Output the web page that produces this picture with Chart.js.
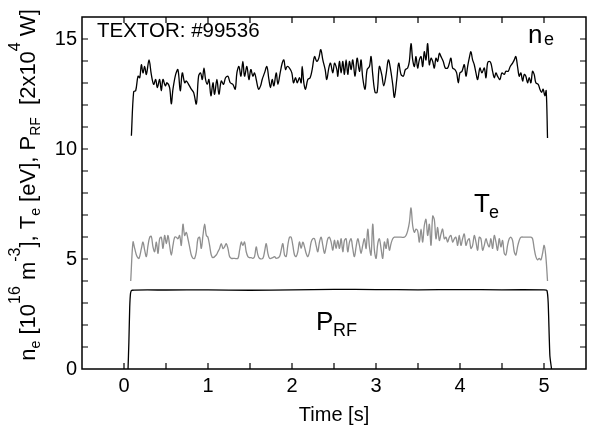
<!DOCTYPE html>
<html><head><meta charset="utf-8">
<script src="https://cdn.jsdelivr.net/npm/chart.js@4/dist/chart.umd.min.js"></script>
<style>html,body{margin:0;padding:0;background:#fff;}</style>
</head><body>
<canvas id="c" width="591" height="427"></canvas>
<script>
// ---- data ----
const neTime = [0.088,0.115,0.139,0.167,0.187,0.207,0.226,0.246,0.266,0.298,0.325,0.353,0.377,0.397,0.424,0.444,0.464,0.492,0.512,0.543,0.563,0.583,0.615,0.642,0.670,0.694,0.722,0.742,0.769,0.801,0.829,0.861,0.888,0.912,0.932,0.952,0.971,0.991,1.011,1.035,1.059,1.078,1.106,1.130,1.158,1.185,1.209,1.237,1.265,1.296,1.324,1.344,1.368,1.392,1.415,1.435,1.463,1.487,1.510,1.534,1.554,1.574,1.602,1.626,1.645,1.673,1.701,1.725,1.744,1.764,1.784,1.812,1.832,1.859,1.883,1.903,1.923,1.942,1.970,1.998,2.018,2.042,2.062,2.089,2.109,2.121,2.141,2.161,2.188,2.216,2.240,2.268,2.295,2.319,2.343,2.367,2.395,2.414,2.438,2.458,2.486,2.506,2.534,2.545,2.565,2.585,2.605,2.624,2.644,2.664,2.684,2.704,2.723,2.751,2.775,2.803,2.822,2.842,2.870,2.894,2.922,2.941,2.961,2.989,3.013,3.040,3.068,3.092,3.120,3.147,3.171,3.199,3.219,3.247,3.270,3.298,3.326,3.349,3.377,3.397,3.417,3.437,3.457,3.476,3.496,3.516,3.536,3.556,3.575,3.595,3.615,3.635,3.655,3.675,3.694,3.714,3.734,3.754,3.774,3.801,3.825,3.853,3.873,3.892,3.912,3.940,3.960,3.980,3.999,4.023,4.051,4.071,4.091,4.110,4.130,4.150,4.170,4.190,4.210,4.237,4.261,4.289,4.309,4.328,4.348,4.368,4.388,4.408,4.428,4.447,4.475,4.499,4.527,4.546,4.574,4.598,4.626,4.646,4.665,4.685,4.705,4.725,4.745,4.765,4.784,4.804,4.824,4.844,4.864,4.883,4.903,4.931,4.951,4.971,4.990,5.010,5.026,5.042];
const neValue = [10.6,12.6,12.65,13.31,13.24,13.83,13.46,13.75,13.39,14.05,13.39,12.94,13.16,12.79,13.16,12.65,13.16,12.87,13.01,12.79,12.05,12.72,13.39,13.61,12.65,13.46,13.01,13.09,12.94,12.72,12.57,12.05,13.31,13.46,13.16,13.68,13.16,12.94,13.16,12.42,13.01,12.49,13.16,12.49,13.09,12.94,13.24,13.31,13.01,12.94,12.72,13.46,13.75,13.31,13.98,13.31,13.75,13.16,13.61,13.31,13.46,13.16,12.72,12.87,13.16,13.46,13.75,13.16,12.79,13.16,12.87,13.46,12.94,13.46,13.90,14.05,13.61,13.75,13.68,13.46,13.01,13.24,13.01,13.24,13.01,13.75,13.01,12.72,13.16,13.24,13.61,14.2,13.98,14.13,14.52,14.05,13.61,13.16,13.68,13.90,13.46,13.90,13.61,13.31,13.98,13.46,13.98,13.39,14.05,13.39,13.98,13.61,14.05,13.31,14.13,13.53,14.05,13.24,12.72,13.61,13.75,14.2,13.39,12.57,12.57,13.75,13.39,12.87,13.39,14.05,13.68,12.94,12.35,13.16,13.90,13.39,13.31,13.61,13.68,13.98,14.79,14.05,13.75,14.2,13.68,14.05,14.2,13.75,14.42,14.05,14.79,13.83,14.13,13.98,13.68,14.13,13.98,14.35,14.2,13.98,13.68,13.68,13.90,14.13,13.68,13.61,13.46,13.01,13.46,13.53,13.83,13.31,13.75,14.13,14.42,14.05,13.83,13.46,13.16,13.68,13.46,13.68,13.24,13.90,13.98,13.90,13.53,13.24,13.46,13.31,13.16,13.46,13.39,13.53,13.53,13.75,13.90,14.05,14.2,13.75,13.31,13.46,13.09,13.39,13.31,13.01,13.24,13.01,13.53,13.39,13.01,12.94,12.72,12.57,12.72,12.42,12.65,10.5];

const teTime = [0.080,0.107,0.127,0.155,0.179,0.207,0.226,0.246,0.266,0.286,0.306,0.325,0.345,0.365,0.385,0.405,0.424,0.444,0.464,0.484,0.504,0.524,0.543,0.563,0.583,0.603,0.623,0.642,0.662,0.682,0.702,0.722,0.742,0.761,0.781,0.801,0.821,0.841,0.861,0.880,0.900,0.920,0.940,0.960,0.980,0.999,1.019,1.039,1.059,1.098,1.118,1.138,1.158,1.178,1.197,1.217,1.237,1.257,1.277,1.316,1.356,1.376,1.396,1.415,1.435,1.455,1.475,1.495,1.514,1.534,1.554,1.574,1.594,1.614,1.653,1.673,1.693,1.713,1.733,1.772,1.792,1.812,1.851,1.871,1.891,1.911,1.931,1.950,1.970,1.990,2.010,2.030,2.050,2.069,2.089,2.109,2.129,2.149,2.168,2.188,2.208,2.228,2.248,2.268,2.287,2.307,2.327,2.347,2.367,2.387,2.406,2.426,2.446,2.466,2.486,2.505,2.525,2.545,2.565,2.585,2.605,2.624,2.644,2.664,2.684,2.704,2.723,2.743,2.763,2.783,2.803,2.822,2.842,2.862,2.882,2.902,2.922,2.941,2.961,2.981,3.001,3.021,3.040,3.060,3.080,3.100,3.120,3.139,3.159,3.179,3.199,3.219,3.258,3.298,3.337,3.357,3.377,3.397,3.417,3.437,3.457,3.476,3.496,3.516,3.536,3.556,3.575,3.595,3.615,3.635,3.655,3.675,3.694,3.714,3.734,3.754,3.774,3.793,3.813,3.833,3.853,3.873,3.892,3.912,3.932,3.952,3.972,3.991,4.011,4.031,4.051,4.071,4.091,4.110,4.130,4.150,4.170,4.190,4.210,4.229,4.249,4.269,4.289,4.309,4.328,4.348,4.368,4.388,4.408,4.428,4.447,4.467,4.487,4.507,4.527,4.546,4.566,4.586,4.606,4.626,4.646,4.665,4.685,4.705,4.725,4.765,4.804,4.844,4.864,4.883,4.903,4.923,4.943,4.963,4.983,5.002,5.022,5.042];
const teValue = [4.0,5.77,5.48,5.11,5.03,5.48,5.77,5.40,5.11,5.62,5.99,6.03,5.55,5.33,5.77,5.26,5.92,5.99,5.48,6.07,5.70,6.07,5.62,5.18,5.62,5.99,5.99,5.92,6.07,5.62,6.58,6.07,6.21,5.92,5.55,5.18,5.03,5.03,5.33,5.92,5.99,5.48,6.07,6.58,6.07,5.99,5.62,5.18,5.06,5.18,5.33,5.48,5.70,5.48,5.55,5.70,5.48,5.11,5.03,5.03,5.03,5.40,5.77,5.62,5.77,5.33,5.11,5.06,5.06,5.03,5.11,5.55,5.18,5.03,5.03,5.33,5.70,5.26,5.03,5.06,5.11,5.03,5.11,5.40,5.70,5.18,5.11,5.62,5.99,5.99,5.62,5.18,5.11,5.33,5.77,5.48,5.77,5.55,5.26,5.11,5.33,5.77,5.92,5.92,5.62,5.33,5.77,5.99,5.62,5.26,5.55,5.92,5.99,5.77,5.40,5.85,5.48,5.84,5.48,5.92,5.33,5.84,5.92,5.33,5.77,5.92,5.48,5.11,5.55,5.92,5.62,5.26,5.62,5.92,5.48,6.36,5.55,5.18,6.58,5.40,5.03,5.70,5.92,5.48,5.03,5.77,5.48,5.92,5.40,5.70,5.92,5.99,5.99,5.99,5.99,6.07,6.28,6.65,7.32,6.51,6.21,6.36,6.28,5.77,6.36,5.77,6.51,6.80,6.07,6.58,5.62,6.95,6.80,5.92,6.43,5.84,6.14,6.36,5.92,5.99,5.77,5.99,6.07,5.77,5.92,5.99,5.62,6.07,5.62,5.92,6.14,5.62,5.84,5.92,5.48,5.62,6.07,5.77,5.40,5.99,5.92,5.40,5.62,5.92,5.70,5.55,5.92,5.48,6.07,5.77,5.40,5.92,5.55,5.84,5.26,5.18,5.62,5.92,5.99,5.84,5.33,5.18,5.55,5.84,5.99,5.99,5.99,5.99,5.92,5.48,5.11,4.96,5.03,4.96,5.26,5.62,5.11,4.0];

const prfTime  = [0.048,0.058,0.068,0.078,0.095,0.5,1.0,1.5,2.0,2.5,3.0,3.5,4.0,4.5,5.0,5.035,5.05,5.07,5.09];
const prfValue = [0,1.2,2.8,3.45,3.58,3.59,3.60,3.58,3.60,3.62,3.61,3.60,3.61,3.60,3.60,3.57,3.0,0.6,0];

const xTickLabels = [0,1,2,3,4,5];
const yTickLabels = [0,5,10,15];

// ---- chart ----
const FONT = '"Liberation Sans", Arial, Helvetica, sans-serif';
const pts = (xs, ys) => xs.map((x, i) => ({x, y: ys[i]}));

const framePlugin = {
  id: 'frame',
  afterDraw(chart) {
    const {ctx, chartArea: a, scales: {x, y}} = chart;
    ctx.save();
    ctx.strokeStyle = '#000';
    ctx.lineWidth = 1.5;
    ctx.strokeRect(a.left, a.top, a.right - a.left, a.bottom - a.top);
    ctx.lineWidth = 1.2;
    const L = 6;
    ctx.beginPath();
    x.ticks.forEach(t => {
      const px = x.getPixelForValue(t.value);
      if (px <= a.left + 1 || px >= a.right - 1) return;
      ctx.moveTo(px, a.bottom); ctx.lineTo(px, a.bottom - L);
      ctx.moveTo(px, a.top); ctx.lineTo(px, a.top + L);
    });
    y.ticks.forEach(t => {
      const py = y.getPixelForValue(t.value);
      if (py <= a.top + 1 || py >= a.bottom - 1) return;
      ctx.moveTo(a.left, py); ctx.lineTo(a.left + L, py);
      ctx.moveTo(a.right, py); ctx.lineTo(a.right - L, py);
    });
    ctx.stroke();

    // annotations
    ctx.fillStyle = '#000';
    ctx.textAlign = 'left';
    ctx.textBaseline = 'alphabetic';
    ctx.font = '20.5px ' + FONT;
    ctx.fillText('TEXTOR: #99536', 97, 37);
    ctx.font = '26px ' + FONT;
    ctx.fillText('n', 528, 43);
    ctx.fillText('T', 474, 212);
    ctx.fillText('P', 316, 330);
    ctx.font = '18px ' + FONT;
    ctx.fillText('e', 544, 45);
    ctx.fillText('e', 489, 218);
    ctx.fillText('RF', 333, 336);

    // rotated y-axis title with sub/superscripts
    const pieces = [['n',22,0],['e',14,5],[' [10',22,0],['16',16,-15],[' m',22,0],['-3',16,-15],['], T',22,0],['e',14,5],[' [eV], P',22,0],['RF',14,5],['  [2x10',22,0],['4',16,-15],[' W]',22,0]];
    let total = 0;
    pieces.forEach(p => { ctx.font = p[1] + 'px ' + FONT; total += ctx.measureText(p[0]).width; });
    ctx.translate(35, 185);
    ctx.rotate(-Math.PI / 2);
    let cx = -total / 2;
    pieces.forEach(p => {
      ctx.font = p[1] + 'px ' + FONT;
      ctx.fillText(p[0], cx, p[2]);
      cx += ctx.measureText(p[0]).width;
    });
    ctx.restore();
  }
};

new Chart(document.getElementById('c'), {
  type: 'scatter',
  data: {
    datasets: [
      {label: 'ne', data: pts(neTime, neValue), showLine: true, borderColor: '#000', borderWidth: 1.3, pointRadius: 0, tension: 0.35},
      {label: 'Te', data: pts(teTime, teValue), showLine: true, borderColor: '#8f8f8f', borderWidth: 1.3, pointRadius: 0, tension: 0.35},
      {label: 'PRF', data: pts(prfTime, prfValue), showLine: true, borderColor: '#000', borderWidth: 1.3, pointRadius: 0, tension: 0.2}
    ]
  },
  options: {
    responsive: false,
    animation: false,
    devicePixelRatio: 1,
    layout: {padding: {top: 7, right: 4, left: 0, bottom: 0}},
    plugins: {legend: {display: false}, tooltip: {enabled: false}},
    scales: {
      x: {
        type: 'linear', min: -0.5, max: 5.5,
        grid: {display: false, drawTicks: false, tickLength: 0},
        border: {display: false},
        ticks: {stepSize: 0.5, autoSkip: false, maxRotation: 0, padding: 5, color: '#000',
          font: {family: FONT, size: 20},
          callback: v => xTickLabels.includes(v) ? String(v) : ''},
        title: {display: true, text: 'Time [s]', color: '#000', font: {family: FONT, size: 20, lineHeight: 1.2}, padding: {top: 0, bottom: 0}},
        afterFit: s => { s.height = 58; }
      },
      y: {
        type: 'linear', min: 0, max: 16,
        grid: {display: false, drawTicks: false, tickLength: 0},
        border: {display: false},
        ticks: {stepSize: 1, autoSkip: false, padding: 5, color: '#000',
          font: {family: FONT, size: 20},
          callback: v => yTickLabels.includes(v) ? String(v) : ''},
        afterFit: s => { s.width = 82; }
      }
    }
  },
  plugins: [framePlugin]
});
</script>
</body></html>
